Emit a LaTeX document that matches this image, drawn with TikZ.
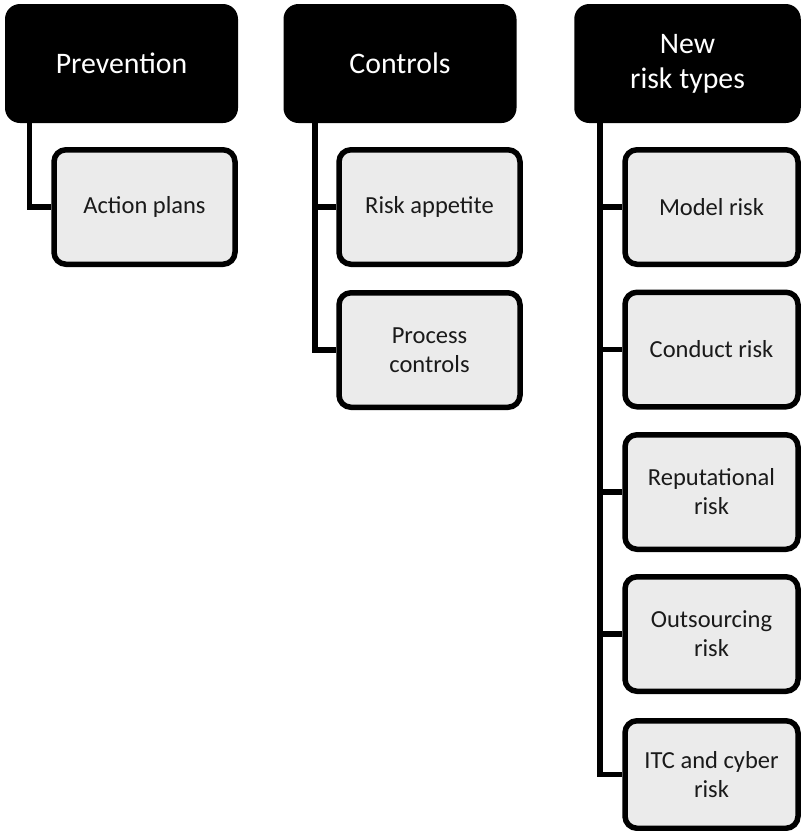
\documentclass[tikz,border=0pt]{standalone}
\usepackage{fontspec}
\setmainfont{Carlito}
\definecolor{leafgray}{HTML}{EBEBEB}
\definecolor{leaftext}{HTML}{1A1A1A}
\tikzset{
  head/.style={fill=black, text=white, rounded corners=15pt, minimum width=233pt,
    minimum height=119pt, align=center, inner sep=0pt,
    font=\fontsize{29.8}{35}\selectfont},
  leaf/.style={draw=black, line width=5.5pt, fill=leafgray, text=leaftext,
    rounded corners=12pt, minimum width=181pt, minimum height=114.5pt,
    align=center, inner sep=0pt, font=\fontsize{24.5}{29}\selectfont},
  rleaf/.style={leaf, minimum width=173pt},
  conn/.style={draw=black, line width=5.5pt}
}
\begin{document}
\begin{tikzpicture}[x=1pt,y=-1pt]
\useasboundingbox (0,0) rectangle (801,831);
\clip (0,0) rectangle (801,831);
% headers
\node[head] (h1) at (121.5,63.5) {Prevention};
\node[head] (h2) at (400,63.5) {Controls};
\node[head, minimum width=226.5pt] (h3) at (687.5,63.5) {New\\risk types};
% trunk tops
\coordinate (t1) at (29.5,118);
\coordinate (t2) at (315,118);
\coordinate (t3) at (600,118);
% leaves
\node[leaf] (c1) at (144.5,207) {Action plans};
\node[leaf] (c2) at (429.5,207) {Risk appetite};
\node[leaf] (c3) at (429.5,350) {Process\\controls};
\node[rleaf] (n1) at (711.5,207) {Model risk};
\node[rleaf] (n2) at (711.5,349.5) {Conduct risk};
\node[rleaf] (n3) at (711.5,492) {Reputational\\risk};
\node[rleaf] (n4) at (711.5,634) {Outsourcing\\risk};
\node[rleaf, minimum height=107.5pt] (n5) at (711.5,774.5) {ITC and cyber\\risk};
% connectors
\draw[conn] (t1) |- (c1.west);
\draw[conn] (t2) |- (c2.west);
\draw[conn] (t2) |- (c3.west);
\draw[conn] (t3) |- (n1.west);
\draw[conn] (t3) |- (n2.west);
\draw[conn] (t3) |- (n3.west);
\draw[conn] (t3) |- (n4.west);
\draw[conn] (t3) |- (n5.west);
\end{tikzpicture}
\end{document}
